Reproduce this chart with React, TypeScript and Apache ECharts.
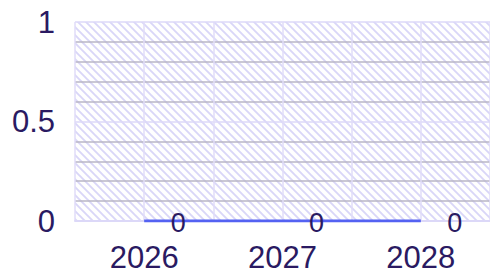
import React, { useEffect, useRef } from "react";
import * as echarts from "echarts";

const categories = ["2026", "2027", "2028"];
const values = [0, 0, 0];
const yTicks = { min: 0, max: 1, interval: 0.5 };

const TEXT = "#2a1a62";

function makeStripe(): string {
  const s = 8;
  const svg =
    `<svg xmlns="http://www.w3.org/2000/svg" width="${s}" height="${s}">` +
    `<rect width="${s}" height="${s}" fill="#ffffff"/>` +
    `<path d="M-2,-2 L${s + 2},${s + 2} M-2,${s - 2} L2,${s + 2} M${s - 2},-2 L${s + 2},2" stroke="#d9d6f8" stroke-width="1.8"/>` +
    `</svg>`;
  return "data:image/svg+xml;charset=utf-8," + encodeURIComponent(svg);
}

export default function App() {
  const ref = useRef<HTMLDivElement>(null);
  useEffect(() => {
    document.body.style.margin = "0";
    if (!ref.current) return;
    const chart = echarts.init(ref.current, undefined, { renderer: "svg" });
    const pattern: any = {
      image: makeStripe(),
      repeat: "repeat",
      imageWidth: 8,
      imageHeight: 8,
    };
    chart.setOption({
      animation: false,
      textStyle: { fontFamily: "Liberation Sans, Arial, sans-serif" },
      grid: {
        show: true,
        left: 75,
        right: -4,
        top: 22,
        bottom: 54,
        borderWidth: 0,
        backgroundColor: pattern,
      },
      xAxis: [
        {
          type: "category",
          data: categories,
          boundaryGap: true,
          axisLine: { show: true, lineStyle: { color: "#dcd8f8", width: 2 } },
          axisTick: { show: false },
          splitLine: { show: false },
          axisLabel: { color: TEXT, fontSize: 31, margin: 21 },
        },
        {
          type: "category",
          position: "top",
          data: Array(categories.length * 2).fill(""),
          boundaryGap: true,
          axisLine: { show: false },
          axisTick: { show: false },
          axisLabel: { show: false },
          splitLine: {
            show: true,
            interval: 0,
            lineStyle: { color: "#e0dcf8", width: 1.5 },
          },
        },
      ],
      yAxis: {
        type: "value",
        min: yTicks.min,
        max: yTicks.max,
        interval: yTicks.interval,
        axisLine: { show: false },
        axisTick: { show: false },
        axisLabel: { color: TEXT, fontSize: 31, margin: 20 },
        splitLine: { show: true, lineStyle: { color: "#dcd8f8", width: 1.5 } },
        minorTick: { show: false, splitNumber: 5 },
        minorSplitLine: { show: true, lineStyle: { color: "#b9b6c6", width: 1.5 } },
      },
      series: [
        {
          type: "line",
          xAxisIndex: 0,
          data: values,
          symbol: "circle",
          symbolSize: 0.01,
          showSymbol: true,
          lineStyle: { color: "#5462f2", width: 3 },
          itemStyle: { color: "#5462f2" },
          label: {
            show: true,
            position: "inside",
            offset: [34, 2],
            color: TEXT,
            fontSize: 27,
          },
        },
      ],
    });
    return () => chart.dispose();
  }, []);
  return <div ref={ref} style={{ width: 490, height: 275 }} />;
}
